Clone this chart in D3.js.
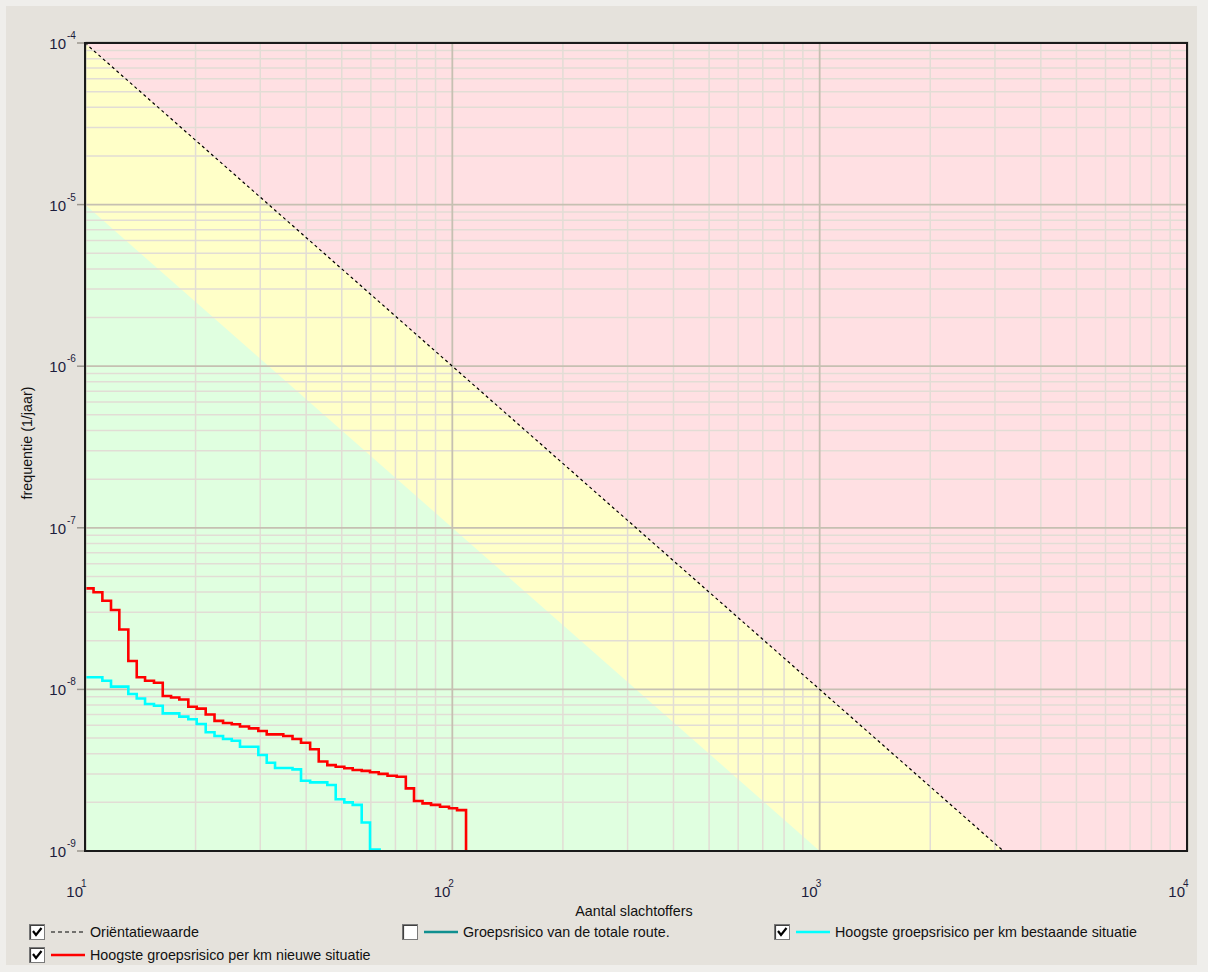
<!DOCTYPE html>
<html>
<head>
<meta charset="utf-8">
<script src="https://cdn.jsdelivr.net/npm/d3@7"></script>
<style>
  html, body { margin: 0; padding: 0; background: #efeeeb; }
  svg { display: block; }
  text { font-family: "Liberation Sans", Arial, sans-serif; }
</style>
</head>
<body>
<svg id="chart" width="1208" height="972"></svg>
<script>
// ---------- data ----------
const xTickExps = [1, 2, 3, 4];
const yTickExps = [-4, -5, -6, -7, -8, -9];

// Oriëntatiewaarde (dashed) and lower limit (green/yellow boundary)
const orientN = [10, 3162.28];
const orientF = [1e-4, 1e-9];
const lowerN = [10, 1000];
const lowerF = [1e-5, 1e-9];

// Hoogste groepsrisico per km nieuwe situatie (red)
const redN = [10, 10.55, 11.15, 11.77, 12.40, 13.12, 13.83, 14.57, 15.41, 16.28, 17.15, 18.06, 19.11, 20.14,
  21.31, 22.52, 23.76, 25.09, 26.42, 27.96, 29.64, 31.24, 34.66, 36.72, 38.73, 41.01, 43.28, 45.67, 48.14,
  50.81, 53.55, 56.66, 59.69, 63.03, 66.61, 70.56, 74.71, 78.65, 82.95, 87.50, 92.58, 97.95, 102.99, 108.97];
const redF = [4.22e-8, 3.99e-8, 3.54e-8, 3.10e-8, 2.35e-8, 1.50e-8, 1.19e-8, 1.13e-8, 1.10e-8, 9.10e-9, 8.91e-9, 8.66e-9, 7.81e-9, 7.60e-9,
  6.99e-9, 6.39e-9, 6.19e-9, 6.08e-9, 5.90e-9, 5.74e-9, 5.53e-9, 5.27e-9, 5.15e-9, 4.93e-9, 4.68e-9, 4.26e-9, 3.58e-9, 3.40e-9, 3.32e-9,
  3.25e-9, 3.17e-9, 3.13e-9, 3.07e-9, 3.00e-9, 2.92e-9, 2.88e-9, 2.44e-9, 2.04e-9, 1.97e-9, 1.93e-9, 1.88e-9, 1.84e-9, 1.79e-9, 1e-9];

// Hoogste groepsrisico per km bestaande situatie (cyan)
const cyanN = [10, 11.15, 11.77, 13.12, 13.83, 14.57, 15.41, 16.28, 18.06, 19.11, 20.14, 21.31, 22.52, 23.76, 25.09,
  26.42, 29.64, 31.24, 32.91, 36.72, 38.73, 41.01, 45.67, 48.14, 50.81, 53.55, 56.66, 59.69, 63.9];
const cyanF = [1.19e-8, 1.13e-8, 1.04e-8, 9.36e-9, 8.78e-9, 8.12e-9, 7.93e-9, 7.11e-9, 6.78e-9, 6.53e-9, 6.11e-9, 5.43e-9, 5.15e-9, 4.93e-9, 4.81e-9,
  4.42e-9, 3.93e-9, 3.52e-9, 3.26e-9, 3.20e-9, 2.72e-9, 2.66e-9, 2.56e-9, 2.09e-9, 2.00e-9, 1.93e-9, 1.50e-9, 1.02e-9, 1.02e-9];

const legendLabels = ["Oriëntatiewaarde", "Groepsrisico van de totale route.", "Hoogste groepsrisico per km bestaande situatie", "Hoogste groepsrisico per km nieuwe situatie"];
const legendChecked = [true, false, true, true];
const legendColors = ["#000000", "#0f8f8f", "#00ffff", "#ff0000"];

// ---------- layout ----------
const svg = d3.select("#chart");
const L = 85, R = 1187, T = 43, B = 851;
const x = d3.scaleLog().domain([10, 1e4]).range([L, R]);
const y = d3.scaleLog().domain([1e-9, 1e-4]).range([B, T]);

// panel background
svg.append("rect").attr("x", 6).attr("y", 6).attr("width", 1191).attr("height", 959).attr("fill", "#e5e2dc");

// clip
svg.append("defs").append("clipPath").attr("id", "plotclip")
  .append("rect").attr("x", L).attr("y", T).attr("width", R - L).attr("height", B - T);
const plot = svg.append("g").attr("clip-path", "url(#plotclip)");

// regions
plot.append("rect").attr("x", L).attr("y", T).attr("width", R - L).attr("height", B - T).attr("fill", "#ffe0e3");
const poly = (pts) => "M" + pts.map(p => p.join(",")).join("L") + "Z";
plot.append("path").attr("fill", "#ffffc8").attr("d", poly([
  [x(orientN[0]), y(orientF[0])], [x(orientN[1]), y(orientF[1])], [x(orientN[0]), y(1e-9)]
]));
plot.append("path").attr("fill", "#e0ffe0").attr("d", poly([
  [x(lowerN[0]), y(lowerF[0])], [x(lowerN[1]), y(lowerF[1])], [x(lowerN[0]), y(1e-9)]
]));

// grid
const xMinor = [], yMinor = [];
for (let e = 1; e < 4; e++) for (let k = 2; k <= 9; k++) xMinor.push(k * Math.pow(10, e));
for (let e = -9; e < -4; e++) for (let k = 2; k <= 9; k++) yMinor.push(k * Math.pow(10, e));
const gridMinor = "#e2ddd5", gridMajor = "#c6c0b2";
plot.selectAll(".vx").data(xMinor).join("line")
  .attr("x1", d => x(d)).attr("x2", d => x(d)).attr("y1", T).attr("y2", B)
  .attr("stroke", gridMinor).attr("stroke-width", 1.5);
plot.selectAll(".hy").data(yMinor).join("line")
  .attr("y1", d => y(d)).attr("y2", d => y(d)).attr("x1", L).attr("x2", R)
  .attr("stroke", gridMinor).attr("stroke-width", 1.5);
plot.selectAll(".vX").data(xTickExps.slice(1, 3)).join("line")
  .attr("x1", d => x(Math.pow(10, d))).attr("x2", d => x(Math.pow(10, d))).attr("y1", T).attr("y2", B)
  .attr("stroke", gridMajor).attr("stroke-width", 1.8);
plot.selectAll(".hY").data(yTickExps.slice(1, 5)).join("line")
  .attr("y1", d => y(Math.pow(10, d))).attr("y2", d => y(Math.pow(10, d))).attr("x1", L).attr("x2", R)
  .attr("stroke", gridMajor).attr("stroke-width", 1.8);

// orientatiewaarde dashed line
plot.append("path")
  .attr("d", d3.line().x(d => x(d[0])).y(d => y(d[1]))(orientN.map((n, i) => [n, orientF[i]])))
  .attr("fill", "none").attr("stroke", "#000").attr("stroke-width", 1.2).attr("stroke-dasharray", "3,3");

// step curves
const stepLine = d3.line().x(d => x(d[0])).y(d => y(d[1])).curve(d3.curveStepAfter);
plot.append("path").datum(cyanN.map((n, i) => [n, cyanF[i]]))
  .attr("d", stepLine).attr("fill", "none").attr("stroke", "#00ffff").attr("stroke-width", 2.6);
plot.append("path").datum(redN.map((n, i) => [n, redF[i]]))
  .attr("d", stepLine).attr("fill", "none").attr("stroke", "#ff0000").attr("stroke-width", 2.6);

// frame
svg.append("rect").attr("x", L + 1).attr("y", T - 1).attr("width", R - L).attr("height", B - T + 1)
  .attr("fill", "none").attr("stroke", "#b9b5ad").attr("stroke-width", 1);
svg.append("rect").attr("x", L).attr("y", T).attr("width", R - L).attr("height", B - T)
  .attr("fill", "none").attr("stroke", "#1a1a1a").attr("stroke-width", 2);

// y ticks
const tickColor = "#1c1c3c";
yTickExps.forEach(e => {
  const yy = y(Math.pow(10, e));
  svg.append("line").attr("x1", 77).attr("x2", L - 1).attr("y1", yy).attr("y2", yy)
    .attr("stroke", "#9a968e").attr("stroke-width", 1.5);
  svg.append("text").attr("x", 66).attr("y", yy + 6).attr("text-anchor", "end")
    .attr("font-size", 15).attr("fill", tickColor).text("10");
  svg.append("text").attr("x", 67).attr("y", yy - 4).attr("text-anchor", "start")
    .attr("font-size", 10).attr("fill", tickColor).text(String(e));
});
// x ticks
xTickExps.forEach(e => {
  const xx = x(Math.pow(10, e));
  svg.append("text").attr("x", xx - 2).attr("y", 897).attr("text-anchor", "end")
    .attr("font-size", 15).attr("fill", tickColor).text("10");
  svg.append("text").attr("x", xx - 4).attr("y", 887).attr("text-anchor", "start")
    .attr("font-size", 10).attr("fill", tickColor).text(String(e));
});

// axis titles
svg.append("text").attr("x", (L + R) / 2 - 2).attr("y", 916).attr("text-anchor", "middle")
  .attr("font-size", 14.3).attr("fill", "#111").text("Aantal slachtoffers");
svg.append("text").attr("transform", "translate(32,443) rotate(-90)").attr("text-anchor", "middle")
  .attr("font-size", 14.3).attr("fill", "#111").text("frequentie (1/jaar)");

// legend
const legendPos = [[29, 932], [402, 932], [774, 932], [29, 955]];
legendLabels.forEach((lab, i) => {
  const [lx, ly] = legendPos[i];
  const g = svg.append("g");
  g.append("rect").attr("x", lx + 0.5).attr("y", ly - 7.5).attr("width", 15).attr("height", 15)
    .attr("fill", "#ffffff").attr("stroke", "#7a7a7a").attr("stroke-width", 1);
  g.append("path").attr("d", `M${lx + 1.5},${ly + 7}V${ly - 6.5}H${lx + 15}`)
    .attr("fill", "none").attr("stroke", "#404040").attr("stroke-width", 1.2);
  if (legendChecked[i]) {
    g.append("path").attr("d", `M${lx + 4},${ly - 1}L${lx + 7},${ly + 3}L${lx + 12.5},${ly - 4}`)
      .attr("fill", "none").attr("stroke", "#000").attr("stroke-width", 2.2);
  }
  g.append("line").attr("x1", lx + 22).attr("x2", lx + 56).attr("y1", ly).attr("y2", ly)
    .attr("stroke", legendColors[i]).attr("stroke-width", i === 0 ? 1.2 : 2.5)
    .attr("stroke-dasharray", i === 0 ? "4,3" : null);
  g.append("text").attr("x", lx + 61).attr("y", ly + 5).attr("font-size", 14.3).attr("fill", "#111").text(lab);
});
</script>
</body>
</html>
